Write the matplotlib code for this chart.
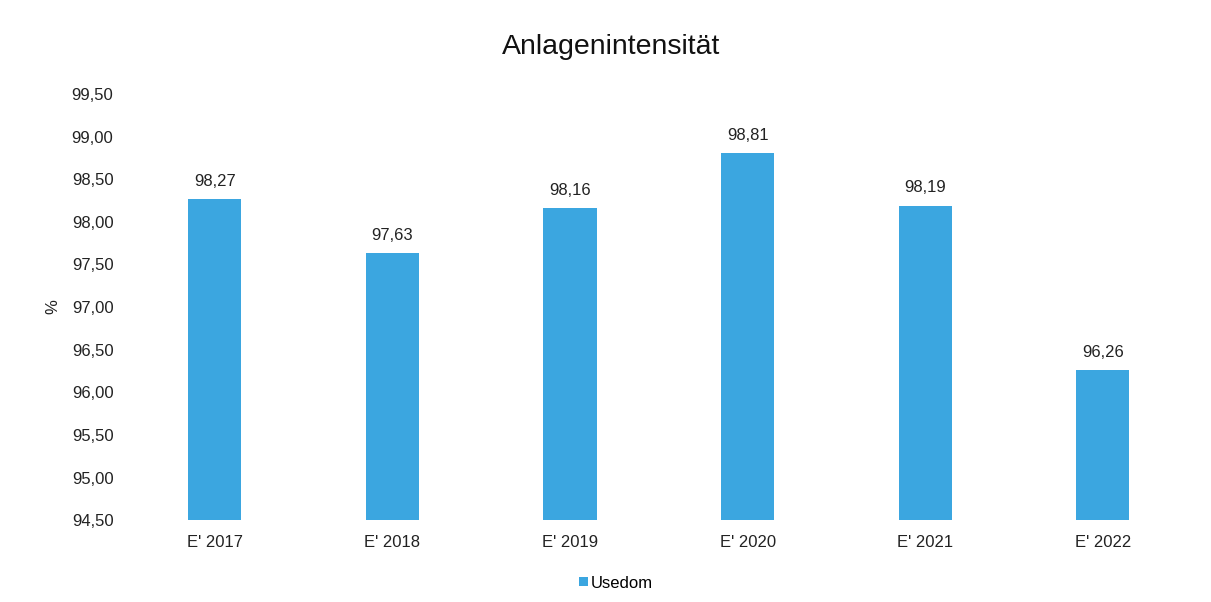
import matplotlib.pyplot as plt
from matplotlib.ticker import FuncFormatter

plt.rcParams['font.family'] = ['Liberation Sans', 'DejaVu Sans']

categories = ["E' 2017", "E' 2018", "E' 2019", "E' 2020", "E' 2021", "E' 2022"]
values = [98.27, 97.63, 98.16, 98.81, 98.19, 96.26]
yticks = [94.5, 95.0, 95.5, 96.0, 96.5, 97.0, 97.5, 98.0, 98.5, 99.0, 99.5]
bar_color = '#3BA6E0'


def de_fmt(v, pos=None):
    return f"{v:.2f}".replace('.', ',')


fig = plt.figure(figsize=(12.11, 6.02), dpi=100)
ax = fig.add_axes([0.104, 0.136, 0.880, 0.708])

x = range(len(categories))
bars = ax.bar(x, values, width=0.30, color=bar_color, label='Usedom', zorder=2)

for xi, v in zip(x, values):
    ax.text(xi, v + 0.12, de_fmt(v), ha='center', va='bottom', fontsize=12, color='#222222')

ax.set_ylim(94.5, 99.5)
ax.set_xlim(-0.5, len(categories) - 0.5)
ax.set_yticks(yticks)
ax.yaxis.set_major_formatter(FuncFormatter(de_fmt))
ax.set_xticks(list(x))
ax.set_xticklabels(categories)
ax.tick_params(axis='both', length=0, labelsize=12, labelcolor='#222222')
ax.tick_params(axis='y', pad=9)
ax.tick_params(axis='x', pad=11)

for s in ax.spines.values():
    s.set_visible(False)

ax.set_ylabel('%', fontsize=12, color='#222222', labelpad=8)
fig.text(0.505, 0.922, 'Anlagenintensität', ha='center', va='center', fontsize=20.5, color='#111111')

ax.legend(loc='upper center', bbox_to_anchor=(0.46, -0.095), frameon=False,
          fontsize=12, handlelength=0.5, handleheight=0.5, handletextpad=0.2)

fig.savefig('out.png', dpi=100, facecolor='white')
